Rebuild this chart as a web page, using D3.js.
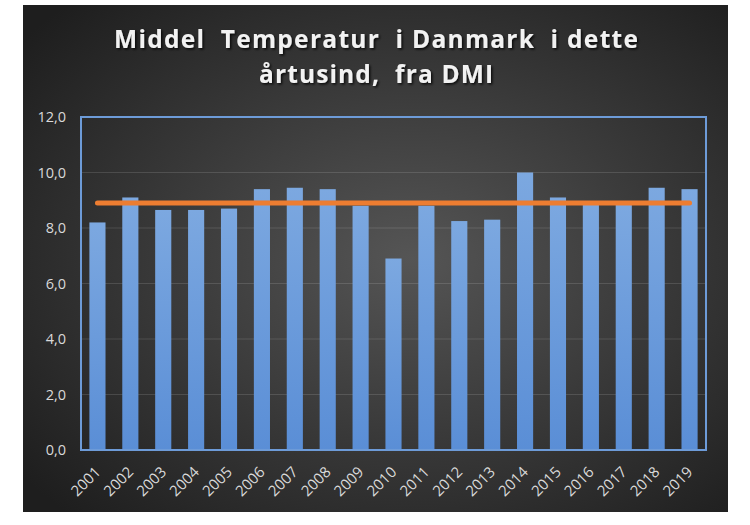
<!DOCTYPE html>
<html lang="da">
<head>
  <meta charset="utf-8">
  <title>Middel Temperatur i Danmark</title>
  <style>
    body { margin: 0; background: #fff; }
    svg { display: block; }
    .tick text { font-family: "Open Sans", sans-serif; }
  </style>
</head>
<body>
<div id="chart"></div>

<script src="https://d3js.org/d3.v7.min.js"></script>
<script>
  // data
  var years  = ["2001","2002","2003","2004","2005","2006","2007","2008","2009","2010",
                "2011","2012","2013","2014","2015","2016","2017","2018","2019"];
  var temps  = [8.2, 9.1, 8.65, 8.65, 8.7, 9.4, 9.45, 9.4, 8.8, 6.9,
                8.8, 8.25, 8.3, 10.0, 9.1, 8.85, 8.85, 9.45, 9.4];
  var average = [8.9, 8.9, 8.9, 8.9, 8.9, 8.9, 8.9, 8.9, 8.9, 8.9,
                 8.9, 8.9, 8.9, 8.9, 8.9, 8.9, 8.9, 8.9, 8.9];
  var yTicks = [0, 2, 4, 6, 8, 10, 12];
  var titleLines = ["Middel  Temperatur  i Danmark  i dette", "årtusind,  fra DMI"];
  var titleWidths = [524, 234];

  var width = 750, height = 525;
  var panel = { x: 23, y: 5, w: 705, h: 507 };
  var margin = { top: 117, right: 44, bottom: 75, left: 81 };

  var svg = d3.select("#chart").append("svg")
      .attr("width", width)
      .attr("height", height);

  var defs = svg.append("defs");
  var bg = defs.append("radialGradient")
      .attr("id", "bg")
      .attr("cx", "55%").attr("cy", "50%").attr("r", "70%");
  bg.append("stop").attr("offset", "0%").attr("stop-color", "#555555");
  bg.append("stop").attr("offset", "100%").attr("stop-color", "#1e1e1e");

  var barGrad = defs.append("linearGradient")
      .attr("id", "bar").attr("x1", 0).attr("y1", 0).attr("x2", 0).attr("y2", 1);
  barGrad.append("stop").attr("offset", "0%").attr("stop-color", "#7ca8e0");
  barGrad.append("stop").attr("offset", "100%").attr("stop-color", "#5a8ed6");

  var shadow = defs.append("filter").attr("id", "shadow")
      .attr("x", "-5%").attr("y", "-20%").attr("width", "110%").attr("height", "140%");
  shadow.append("feDropShadow")
      .attr("dx", 1.5).attr("dy", 1.5).attr("stdDeviation", 1)
      .attr("flood-color", "#000").attr("flood-opacity", 0.8);

  // baggrund
  svg.append("rect")
      .attr("x", panel.x).attr("y", panel.y)
      .attr("width", panel.w).attr("height", panel.h)
      .attr("fill", "url(#bg)");

  // titel
  svg.append("g")
      .attr("filter", "url(#shadow)")
    .selectAll("text")
    .data(titleLines)
    .enter().append("text")
      .attr("x", 376)
      .attr("y", function(d, i) { return 48 + i * 35; })
      .attr("text-anchor", "middle")
      .attr("textLength", function(d, i) { return titleWidths[i]; })
      .attr("lengthAdjust", "spacing")
      .attr("fill", "#f2f2f2")
      .style("font-family", "'Open Sans', sans-serif")
      .style("font-weight", "700")
      .style("font-size", "24.5px")
      .style("white-space", "pre")
      .text(function(d) { return d; });

  var x = d3.scaleBand()
      .domain(years)
      .range([margin.left, width - margin.right])
      .paddingInner(0.51)
      .paddingOuter(0.255);

  var y = d3.scaleLinear()
      .domain([0, 12])
      .range([height - margin.bottom, margin.top]);

  // gitterlinjer
  svg.append("g")
    .selectAll("line")
    .data(yTicks.slice(1, -1))
    .enter().append("line")
      .attr("x1", margin.left).attr("x2", width - margin.right)
      .attr("y1", function(d) { return y(d); })
      .attr("y2", function(d) { return y(d); })
      .attr("stroke", "#ffffff")
      .attr("stroke-opacity", 0.13)
      .attr("stroke-width", 1);

  // søjler
  svg.append("g")
    .selectAll("rect")
    .data(temps)
    .enter().append("rect")
      .attr("x", function(d, i) { return x(years[i]); })
      .attr("y", function(d) { return y(d); })
      .attr("width", x.bandwidth())
      .attr("height", function(d) { return y(0) - y(d); })
      .attr("fill", "url(#bar)");

  // gennemsnit
  var line = d3.line()
      .x(function(d, i) { return x(years[i]) + x.bandwidth() / 2; })
      .y(function(d) { return y(d); });

  svg.append("path")
      .datum(average)
      .attr("d", line)
      .attr("fill", "none")
      .attr("stroke", "#ed7d31")
      .attr("stroke-width", 5)
      .attr("stroke-linecap", "round");

  // ramme om plotområdet
  svg.append("rect")
      .attr("x", margin.left).attr("y", margin.top)
      .attr("width", width - margin.left - margin.right)
      .attr("height", height - margin.top - margin.bottom)
      .attr("fill", "none")
      .attr("stroke", "#6d9bd8")
      .attr("stroke-width", 2);

  // y-akse
  var yAxis = svg.append("g")
      .attr("transform", "translate(" + margin.left + ",0)")
      .call(d3.axisLeft(y)
        .tickValues(yTicks)
        .tickSize(0)
        .tickPadding(15)
        .tickFormat(function(d) { return d3.format(".1f")(d).replace(".", ","); }));
  yAxis.select(".domain").remove();
  yAxis.selectAll("text")
      .attr("fill", "#d9d9d9")
      .style("font-size", "14.5px");

  // x-akse
  var xAxis = svg.append("g")
      .attr("transform", "translate(0," + (height - margin.bottom) + ")")
      .call(d3.axisBottom(x).tickSize(0).tickPadding(0));
  xAxis.select(".domain").remove();
  xAxis.selectAll("text")
      .attr("fill", "#d9d9d9")
      .style("font-size", "15px")
      .attr("text-anchor", "end")
      .attr("dy", null)
      .attr("transform", "translate(4,23) rotate(-45)");
</script>
</body>
</html>
